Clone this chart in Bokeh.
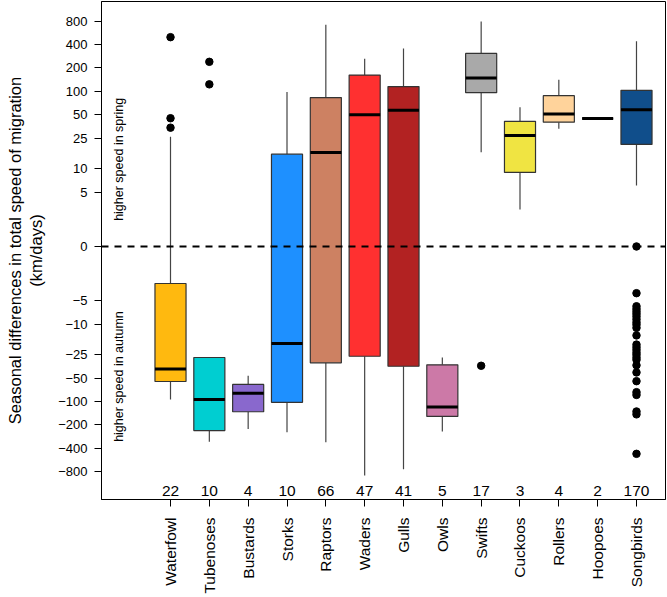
import numpy as np
from bokeh.plotting import figure
from bokeh.layouts import column
from bokeh.models import Range1d, FixedTicker, Span
from bokeh.core.properties import value
from bokeh.embed import file_html
from bokeh.resources import INLINE

# ---------------- data (values in km/days) ----------------
groups = ["Waterfowl", "Tubenoses", "Bustards", "Storks", "Raptors", "Waders",
          "Gulls", "Owls", "Swifts", "Cuckoos", "Rollers", "Hoopoes", "Songbirds"]
counts = [22, 10, 4, 10, 66, 47, 41, 5, 17, 3, 4, 2, 170]

whisker_low = [-94, -329, -226, -248, -333, -897, -744, -243, 16.4, 3.0, 33, 44.5, 6.1]
q1 = [-55, -236, -135, -102, -31.6, -26, -35, -155, 96, 9.0, 40, 44.5, 20.7]
median = [-38, -94, -78, -17.8, 16.3, 50, 57, -117, 149, 27, 51, 44.5, 58]
q3 = [-3.0, -27, -60, 15.5, 83, 162, 115, -33.5, 308, 41, 88, 44.5, 103]
whisker_high = [26, -27, -46.5, 98, 720, 263, 357, -27, 796, 62.5, 141, 44.5, 443]

outliers_waterfowl = [499, 45, 34]
outliers_tubenoses = [240, 123]
outliers_swifts = [-34.5]
outliers_songbirds = [0, -4.0, -5.9, -6.4, -6.9, -7.4, -8.0, -8.7, -9.5, -10.2, -11.2,
                      -14, -18.4, -19.9, -21.5, -23.3, -24.9, -27, -28.9, -34, -42,
                      -54.5, -75.5, -82, -134, -146, -471]

tick_values = [800, 400, 200, 100, 50, 25, 10, 5, 0, -5, -10, -25, -50, -100, -200, -400, -800]

colors = ["#FFB90F", "#00CED1", "#8968CD", "#1E90FF", "#CD8162", "#FF3030",
          "#B22222", "#CC79A7", "#A9A9A9", "#F0E442", "#FFD39B", "#FFD39B", "#104E8B"]


def tr(v):
    v = np.asarray(v, dtype=float)
    return np.sign(v) * np.log2(np.maximum(np.abs(v), 1.0))


xs = np.arange(1, len(groups) + 1)
Y_LO, Y_HI = -10.835, 10.49
FONT = "Liberation Sans"

xr = Range1d(-0.777, 13.747)

p = figure(width=667, height=507,
           x_range=xr, y_range=Range1d(Y_LO, Y_HI),
           output_backend="svg", toolbar_location=None,
           min_border_left=101, min_border_right=2, min_border_top=1, min_border_bottom=8)

p.xgrid.visible = False
p.ygrid.visible = False
p.outline_line_color = "black"
p.outline_line_width = 1
p.outline_line_alpha = 1

# y axis
ya = p.yaxis[0]
ya.ticker = FixedTicker(ticks=list(tr(tick_values)), minor_ticks=[])
ya.major_label_overrides = {float(t): (str(v) if v >= 0 else "\u2212" + str(-v))
                            for t, v in zip(tr(tick_values), tick_values)}
ya.major_tick_out = 7
ya.major_tick_in = 0
ya.minor_tick_out = 0
ya.minor_tick_in = 0
ya.major_tick_line_color = "black"
ya.axis_line_color = "black"
ya.major_label_text_font = FONT
ya.major_label_text_font_size = "13px"
ya.major_label_text_color = "black"
ya.major_label_standoff = 7
ya.axis_label = "Seasonal differences in total speed of migration\n(km/days)"
ya.axis_label_text_font = FONT
ya.axis_label_text_font_size = "16.5px"
ya.axis_label_text_font_style = "normal"
ya.axis_label_text_color = "black"
ya.axis_label_standoff = 10

# x axis: ticks only
xa = p.xaxis[0]
xa.ticker = FixedTicker(ticks=[int(x) for x in xs], minor_ticks=[])
xa.major_label_overrides = {int(x): "" for x in xs}
xa.major_label_text_font_size = "0px"
xa.major_label_standoff = 0
xa.major_tick_out = 7
xa.major_tick_in = 0
xa.minor_tick_out = 0
xa.minor_tick_in = 0
xa.major_tick_line_color = "black"
xa.axis_line_color = "black"

# whiskers
p.segment(x0=xs, y0=tr(whisker_low), x1=xs, y1=tr(q1), line_color="#444444", line_width=1.2)
p.segment(x0=xs, y0=tr(q3), x1=xs, y1=tr(whisker_high), line_color="#444444", line_width=1.2)

# boxes
p.vbar(x=xs, width=0.8, bottom=tr(q1), top=tr(q3), fill_color=colors,
       line_color="#333333", line_width=1.2)

# medians
p.segment(x0=xs - 0.4, y0=tr(median), x1=xs + 0.4, y1=tr(median),
          line_color="black", line_width=3)

# zero line
p.add_layout(Span(location=0, dimension="width", line_color="black",
                  line_width=2, line_dash="7 6"))

# outliers
out_x = ([1] * len(outliers_waterfowl) + [2] * len(outliers_tubenoses)
         + [9] * len(outliers_swifts) + [13] * len(outliers_songbirds))
out_y = tr(outliers_waterfowl + outliers_tubenoses + outliers_swifts + outliers_songbirds)
p.scatter(x=out_x, y=out_y, size=7.5, fill_color="black", line_color="black")

# counts
p.text(x=xs, y=[-10.49] * len(xs), text=[str(c) for c in counts],
       text_align="center", text_baseline="middle",
       text_font=value(FONT), text_font_size="15.5px", text_color="black")

# direction notes
p.text(x=[-0.331, -0.331], y=[3.73, -5.57],
       text=["higher speed in spring", "higher speed in autumn"],
       angle=np.pi / 2, text_align="center", text_baseline="middle",
       text_font=value(FONT), text_font_size="12.5px", text_color="black")

# ---------------- group names strip below ----------------
p2 = figure(width=667, height=90, x_range=xr, y_range=Range1d(0, 90),
            output_backend="svg", toolbar_location=None,
            x_axis_location=None, y_axis_location=None,
            min_border_left=101, min_border_right=2, min_border_top=0, min_border_bottom=0)
p2.xgrid.visible = False
p2.ygrid.visible = False
p2.outline_line_color = None
p2.text(x=xs, y=[80] * len(xs), text=groups, angle=np.pi / 2,
        text_align="right", text_baseline="middle",
        text_font=value(FONT), text_font_size="15.5px", text_color="black")

layout = column(p, p2, spacing=0)
open("out.html", "w").write(file_html(layout, INLINE))
